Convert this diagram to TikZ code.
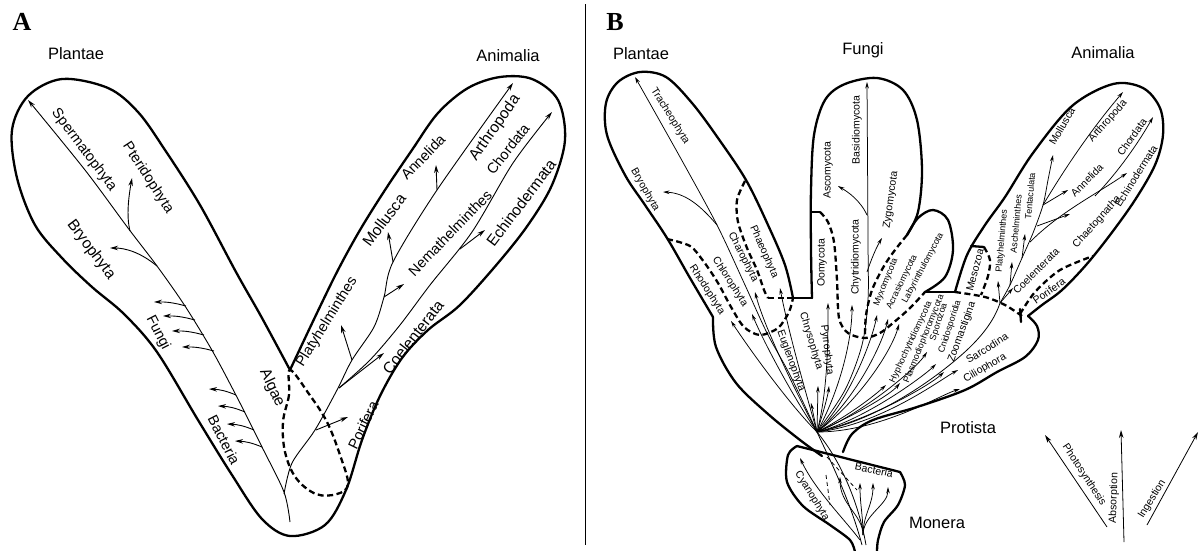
\documentclass[tikz,border=0pt]{standalone}
\usepackage{fontspec}
\setmainfont{Liberation Sans}
\newfontfamily\panelfont{Liberation Serif}
\usetikzlibrary{arrows.meta, calc}

\tikzset{
  outline/.style={line width=2.3pt, line join=round, line cap=round},
  divide/.style={line width=2.3pt, dash pattern=on 6pt off 3.5pt},
  thindash/.style={line width=0.8pt, dash pattern=on 4pt off 3pt},
  twig/.style={line width=0.8pt},
  arr/.style={line width=0.9pt, -{Stealth[length=8pt,width=4.5pt]}},
  arrb/.style={line width=0.75pt, -{Stealth[length=6.5pt,width=3.6pt]}},
  lblA/.style={font=\fontsize{14.5}{15}\selectfont},
  lblAb/.style={font=\fontsize{15.5}{16}\selectfont},
  lblB/.style={font=\fontsize{10.5}{11}\selectfont},
  lblS/.style={font=\fontsize{9}{9}\selectfont},
  kingdom/.style={font=\fontsize{16.5}{17}\selectfont},
  panel/.style={font=\panelfont\bfseries\fontsize{26}{26}\selectfont},
}

\begin{document}
\begin{tikzpicture}[x=1pt, y=-1pt]
  \useasboundingbox (0,0) rectangle (1200,550);

  % ================= panel A =================
  \node[panel] (lA) at (22,22) {A};
  \node[kingdom] (plA) at (76,54) {Plantae};
  \node[kingdom] (anA) at (508,56) {Animalia};

  % outline of the V
  \draw[outline] plot[smooth, tension=0.55] coordinates {
    (290,370) (262,318) (236,272) (200,205) (165,150) (138,112) (108,88) (62,79) (28,96) (12,130)
    (17,178) (35,225) (62,258) (92,287) (124,314) (157,352) (198,420) (232,475) (262,519) (290,536)
    (325,525) (346,490) (362,440) (380,396) (402,358) (428,330) (460,305) (498,263) (528,225)
    (552,185) (565,140) (558,100) (532,79) (500,77) (468,88) (438,113) (412,150) (385,190)
    (360,230) (338,270) (316,315) (290,370)};

  % Algae, dashed
  \draw[divide] plot[smooth cycle, tension=0.6] coordinates {(290,370) (289,395) (283,422) (285,452)
    (296,478) (316,494) (337,494) (348,484) (340,455) (327,422) (309,394)};

  % plant stem
  \draw[arr] plot[smooth] coordinates {(290,522) (284,492) (262,447) (240,403) (213,352) (185,306)
    (157,266) (128,228) (85,170) (28,100)};
  \draw[arr] (157,266) .. controls (140,252) and (125,248) .. (110,248);
  \draw[arr] (130,231) .. controls (126,215) and (129,195) .. (132,178);
  % fungi and bacteria
  \foreach \x/\y in {186/306, 195/320, 204/335, 214/351}
    \draw[arr] (\x,\y) to[bend right=8] ++(-32,-4);
  \foreach \x/\y in {236/395, 245/412, 254/430, 262/447}
    \draw[arr] (\x,\y) to[bend right=10] ++(-27,-6);

  % animal stem
  \draw[arr] plot[smooth] coordinates {(284,494) (292,463) (315,430) (337,390) (352,360) (374,327)
    (384,297) (393,262) (437,190) (513,83)};
  \draw[arr] plot[smooth] coordinates {(339,388) (370,360) (400,325) (430,285) (472,232) (513,163) (552,112)};
  \draw[arr] (352,360) -- (341,325);
  \draw[arr] (339,388) -- (384,353);
  \draw[arr] (316,430) -- (348,417);
  \draw[arr] (384,297) -- (404,284);
  \draw[arr] (393,262) -- (388,232);
  \draw[arr] (437,190) -- (436,165);
  \draw[arr] (460,249) -- (485,230);

  % labels A
  \node[lblA, rotate=-53] (spermA) at (84,150) {Spermatophyta};
  \node[lblA, rotate=-57] (pteriA) at (148,178) {Pteridophyta};
  \node[lblAb, rotate=-53] (bryoA) at (91,250) {Bryophyta};
  \node[lblA, rotate=-63] (fungA) at (158,333) {Fungi};
  \node[lblA, rotate=-63] (bactA) at (224,440) {Bacteria};
  \node[lblAb, rotate=-65] (algaA) at (272,388) {Algae};
  \node[lblA, rotate=58] (platA) at (327,322) {Platyhelminthes};
  \node[lblA, rotate=64] (poriA) at (363,425) {Porifera};
  \node[lblAb, rotate=52] (coelA) at (413,337) {Coelenterata};
  \node[lblA, rotate=46] (nemaA) at (450,233) {Nemathelminthes};
  \node[lblAb, rotate=53] (mollA) at (384,220) {Mollusca};
  \node[lblA, rotate=46] (anneA) at (423,157) {Annelida};
  \node[lblAb, rotate=55] (arthA) at (495,128) {Arthropoda};
  \node[lblA, rotate=52] (chorA) at (508,149) {Chordata};
  \node[lblAb, rotate=53] (echiA) at (521,203) {Echinodermata};

  % separator
  \draw[line width=1pt] (585,4) -- (585,545);

  % ================= panel B =================
  \node[panel] (lB) at (615,22) {B};
  \node[kingdom] (plB) at (641,54) {Plantae};
  \node[kingdom] (fuB) at (863,50) {Fungi};
  \node[kingdom] (anB) at (1103,53) {Animalia};
  \node[kingdom] (prB) at (968,428) {Protista};
  \node[kingdom] (moB) at (937,523) {Monera};

  % Plantae lobe
  \draw[outline] plot[smooth, tension=0.55] coordinates {(713,317) (690,278) (667,238) (645,205)
    (625,175) (607,135) (606,103) (618,82) (640,72) (666,77) (692,103) (718,138) (746,180)
    (768,225) (785,265) (793,298)};
  \draw[outline] (793,298) -- (812,298);
  % Fungi lobes
  \draw[outline] plot[smooth, tension=0.55] coordinates {(812,298) (811,250) (811,190) (814,135)
    (825,100) (845,84) (877,78) (903,90) (917,120) (922,170) (918,212) (907,235)};
  \draw[outline] plot[smooth, tension=0.55] coordinates {(907,235) (918,218) (933,210) (948,220)
    (953,250) (945,277) (925,292)};
  \draw[outline] (925,292) -- (955,292);
  % Animalia lobe
  \draw[outline] plot[smooth, tension=0.55] coordinates {(955,292) (967,255) (985,225) (1005,197)
    (1033,153) (1072,106) (1113,84) (1143,88) (1160,108) (1163,135) (1155,165) (1135,200)
    (1110,235) (1086,265) (1062,290) (1042,305) (1028,316)};
  % Protista
  \draw[outline] plot[smooth, tension=0.55] coordinates {(1028,316) (1037,326) (1038,340) (1025,357)
    (997,372) (965,390) (917,407) (873,420) (852,434) (843,452)};
  \draw[outline] plot[smooth, tension=0.55] coordinates {(713,317) (716,347) (736,383) (768,414)
    (800,440) (822,456)};
  % Monera
  \draw[outline] plot[smooth, tension=0.5] coordinates {(855,552) (850,540) (830,525) (803,506)
    (787,482) (788,455) (797,446)};
  \draw[outline] (797,446) -- (900,472);
  \draw[outline] plot[smooth, tension=0.5] coordinates {(900,472) (905,485) (898,505) (884,522)
    (878,540) (877,552)};

  % dashed borders
  \draw[divide] plot[smooth] coordinates {(745,181) (737,200) (738,222) (747,248) (757,270) (764,290) (768,298)};
  \draw[divide] (768,298) -- (793,298);
  \draw[divide] plot[smooth] coordinates {(667,239) (690,246) (704,262) (718,283) (731,307) (744,327)
    (760,335) (778,328) (789,312) (793,298)};
  \draw[outline] (812,212) -- (820,212);
  \draw[divide] plot[smooth] coordinates {(820,212) (828,222) (834,242) (837,280) (839,318) (848,333)
    (865,338) (880,333) (893,323) (910,308) (925,292)};
  \draw[divide] plot[smooth] coordinates {(907,235) (895,250) (884,266) (872,290) (866,315) (865,337)};
  \draw[divide] plot[smooth] coordinates {(955,292) (985,297) (1005,305) (1022,316)};
  \draw[outline] (971,246) -- (984,247);
  \draw[divide] plot[smooth] coordinates {(984,247) (990,260) (988,276) (981,295)};
  \draw[divide] plot[smooth] coordinates {(1020,314) (1035,292) (1060,270) (1093,256)};
  \draw[outline] (1020,309) -- (1021,322);

  % focal point of the tree
  \coordinate (F) at (817,432);

  % plant lines
  \draw[arrb] plot[smooth] coordinates {(F) (790,375) (767,333) (745,285) (717,225) (680,157) (635,77)};
  \draw[arrb] (717,225) .. controls (700,205) and (685,193) .. (663,192);
  \draw[arrb] (F) .. controls (800,400) and (765,330) .. (755,292);
  \draw[arrb] (F) .. controls (805,390) and (788,330) .. (780,288);
  \draw[arrb] (F) .. controls (795,400) and (765,345) .. (752,314);
  \draw[arrb] (F) .. controls (790,405) and (750,350) .. (731,321);
  \draw[arrb] (F) -- (811,403);
  \draw[arrb] (F) -- (818,386);
  \draw[arrb] (F) .. controls (824,410) and (828,395) .. (829,386);

  % fungal lines
  \draw[arrb] plot[smooth] coordinates {(F) (845,390) (862,345) (868,300) (868,240) (867,82)};
  \draw[arrb] (867,215) .. controls (860,200) and (848,192) .. (838,186);
  \draw[arrb] (867,272) .. controls (871,260) and (876,248) .. (882,238);
  \draw[arrb] (F) .. controls (828,390) and (828,340) .. (828,303);
  \draw[arrb] (F) .. controls (840,390) and (852,340) .. (852,305);
  \draw[arrb] (F) .. controls (850,400) and (872,340) .. (877,315);
  \draw[arrb] (F) .. controls (855,400) and (882,345) .. (888,319);
  \draw[arrb] (F) .. controls (860,400) and (892,350) .. (899,324);

  % protist lines
  \draw[arrb] (F) .. controls (850,415) and (875,395) .. (886,385);
  \draw[arrb] (F) .. controls (855,415) and (890,395) .. (900,383);
  \draw[arrb] (F) .. controls (860,415) and (915,370) .. (927,352);
  \draw[arrb] (F) .. controls (865,420) and (925,375) .. (936,364);
  \draw[arrb] (F) .. controls (870,420) and (930,385) .. (944,372);
  \draw[arrb] (F) .. controls (880,425) and (940,380) .. (958,370);
  \draw[arrb] (F) .. controls (880,432) and (940,395) .. (960,389);

  % animal lines
  \coordinate (Pa) at (1000,303);
  \draw[twig] (F) .. controls (880,420) and (940,375) .. (967,350) .. controls (985,333) and (995,318) .. (Pa);
  \draw[arrb] (Pa) -- (998,281);
  \draw[arrb] (Pa) -- (1013,288);
  \draw[arrb] plot[smooth] coordinates {(Pa) (1010,285) (1022,258) (1033,233) (1043,205) (1048,180) (1053,155)};
  \draw[arrb] (1010,285) -- (1012,262);
  \draw[arrb] (1022,258) -- (1025,234);
  \draw[arrb] (1037,226) -- (1070,214);
  \draw[arrb] (1043,205) -- (1068,190);
  \draw[arrb] (1043,205) .. controls (1070,160) and (1095,125) .. (1123,92);
  \draw[arrb] (1030,242) .. controls (1060,212) and (1095,195) .. (1127,173);
  \draw[arrb] (1095,196) .. controls (1120,170) and (1140,140) .. (1153,117);

  % Monera
  \draw[twig] (862,545) .. controls (850,500) and (830,460) .. (F);
  \draw[twig] (866,545) .. controls (858,500) and (840,460) .. (F);
  \draw[arrb] (860,540) .. controls (845,520) and (815,490) .. (800,458);
  \foreach \tx/\ty in {840/477, 860/483, 873/483, 888/487}
    \draw[arrb] (863,535) .. controls (863,515) and (\tx,505) .. (\tx,\ty);
  \draw[thindash] (827,457) -- (857,490);
  \draw[thindash] (826,475) -- (830,505);

  % labels B, plants
  \node[lblB, rotate=-58] (trachB) at (670,116) {Tracheophyta};
  \node[lblB, rotate=-60] (bryoB) at (645,190) {Bryophyta};
  \node[lblB, rotate=-66] (phaeB) at (764,252) {Phaeophyta};
  \node[lblB, rotate=-63] (charB) at (743,257) {Charophyta};
  \node[lblB, rotate=-57] (chloB) at (730,282) {Chlorophyta};
  \node[lblB, rotate=-57] (rhodB) at (707,290) {Rhodophyta};
  \node[lblB, rotate=-70] (eugB) at (791,361) {Euglenophyta};
  \node[lblB, rotate=-73] (chrysB) at (811,341) {Chrysophyta};
  \node[lblB, rotate=-83] (pyrrB) at (827,350) {Pyrrophyta};
  % labels B, fungi
  \node[lblB, rotate=90] (basiB) at (857,130) {Basidiomycota};
  \node[lblB, rotate=90] (ascoB) at (828,170) {Ascomycota};
  \node[lblB, rotate=82] (zygoB) at (891,200) {Zygomycota};
  \node[lblB, rotate=90] (chytB) at (856,257) {Chytridiomycota};
  \node[lblB, rotate=90] (oomyB) at (822,263) {Oomycota};
  \node[lblS, rotate=68] (myxoB) at (886,282) {Myxomycota};
  \node[lblS, rotate=64] (acraB) at (902,282) {Acrasiomycota};
  \node[lblS, rotate=62] (labyB) at (923,268) {Labyrinthulomycota};
  % labels B, protists
  \node[lblS, rotate=65] (hyphB) at (911,342) {Hyphochytridiomycota};
  \node[lblS, rotate=68] (plasB) at (924,339) {Plasmodiophoromycota};
  \node[lblS, rotate=72] (sporB) at (939,322) {Sporozoa};
  \node[lblS, rotate=72] (cnidB) at (950,327) {Cnidosporidia};
  \node[lblB, rotate=70] (zoomB) at (962,332) {Zoomastigina};
  \node[lblB, rotate=32] (sarcB) at (987,348) {Sarcodina};
  \node[lblB, rotate=30] (ciliB) at (985,368) {Ciliophora};
  % labels B, animals
  \node[lblS, rotate=85] (platB) at (1002,241) {Platyhelminthes};
  \node[lblS, rotate=85] (ascheB) at (1016,224) {Aschelminthes};
  \node[lblB, rotate=75] (mesoB) at (975,270) {Mesozoa};
  \node[lblB, rotate=45] (coelB) at (1036,271) {Coelenterata};
  \node[lblB, rotate=35] (poriB) at (1049,291) {Porifera};
  \node[lblS, rotate=85] (tentB) at (1030,196) {Tentaculata};
  \node[lblB, rotate=48] (chaeB) at (1097,222) {Chaetognatha};
  \node[lblB, rotate=45] (anneB) at (1087,180) {Annelida};
  \node[lblB, rotate=60] (mollB) at (1062,126) {Mollusca};
  \node[lblB, rotate=48] (arthB) at (1108,121) {Arthropoda};
  \node[lblB, rotate=55] (chorB) at (1132,137) {Chordata};
  \node[lblB, rotate=58] (echiB) at (1136,176) {Echinodermata};
  % labels B, monera
  \node[lblB, rotate=-58] (cyanB) at (812,496) {Cyanophyta};
  \node[lblB, rotate=-12] (bactB) at (874,470) {Bacteria};

  % nutrition arrows
  \coordinate (phS) at (1107,527);
  \coordinate (phE) at (1045,435);
  \coordinate (abS) at (1124,542);
  \coordinate (abE) at (1121,430);
  \coordinate (inS) at (1147,525);
  \coordinate (inE) at (1198,432);
  \draw[arr, line width=0.8pt] (phS) -- (phE);
  \draw[arr, line width=0.8pt] (abS) -- (abE);
  \draw[arr, line width=0.8pt] (inS) -- (inE);
  \node[lblB, rotate=-57] (photB) at (1084,475) {Photosynthesis};
  \node[lblB, rotate=88] (absB) at (1114,498) {Absorption};
  \node[lblB, rotate=58] (ingB) at (1152,499) {Ingestion};
\end{tikzpicture}
\end{document}
